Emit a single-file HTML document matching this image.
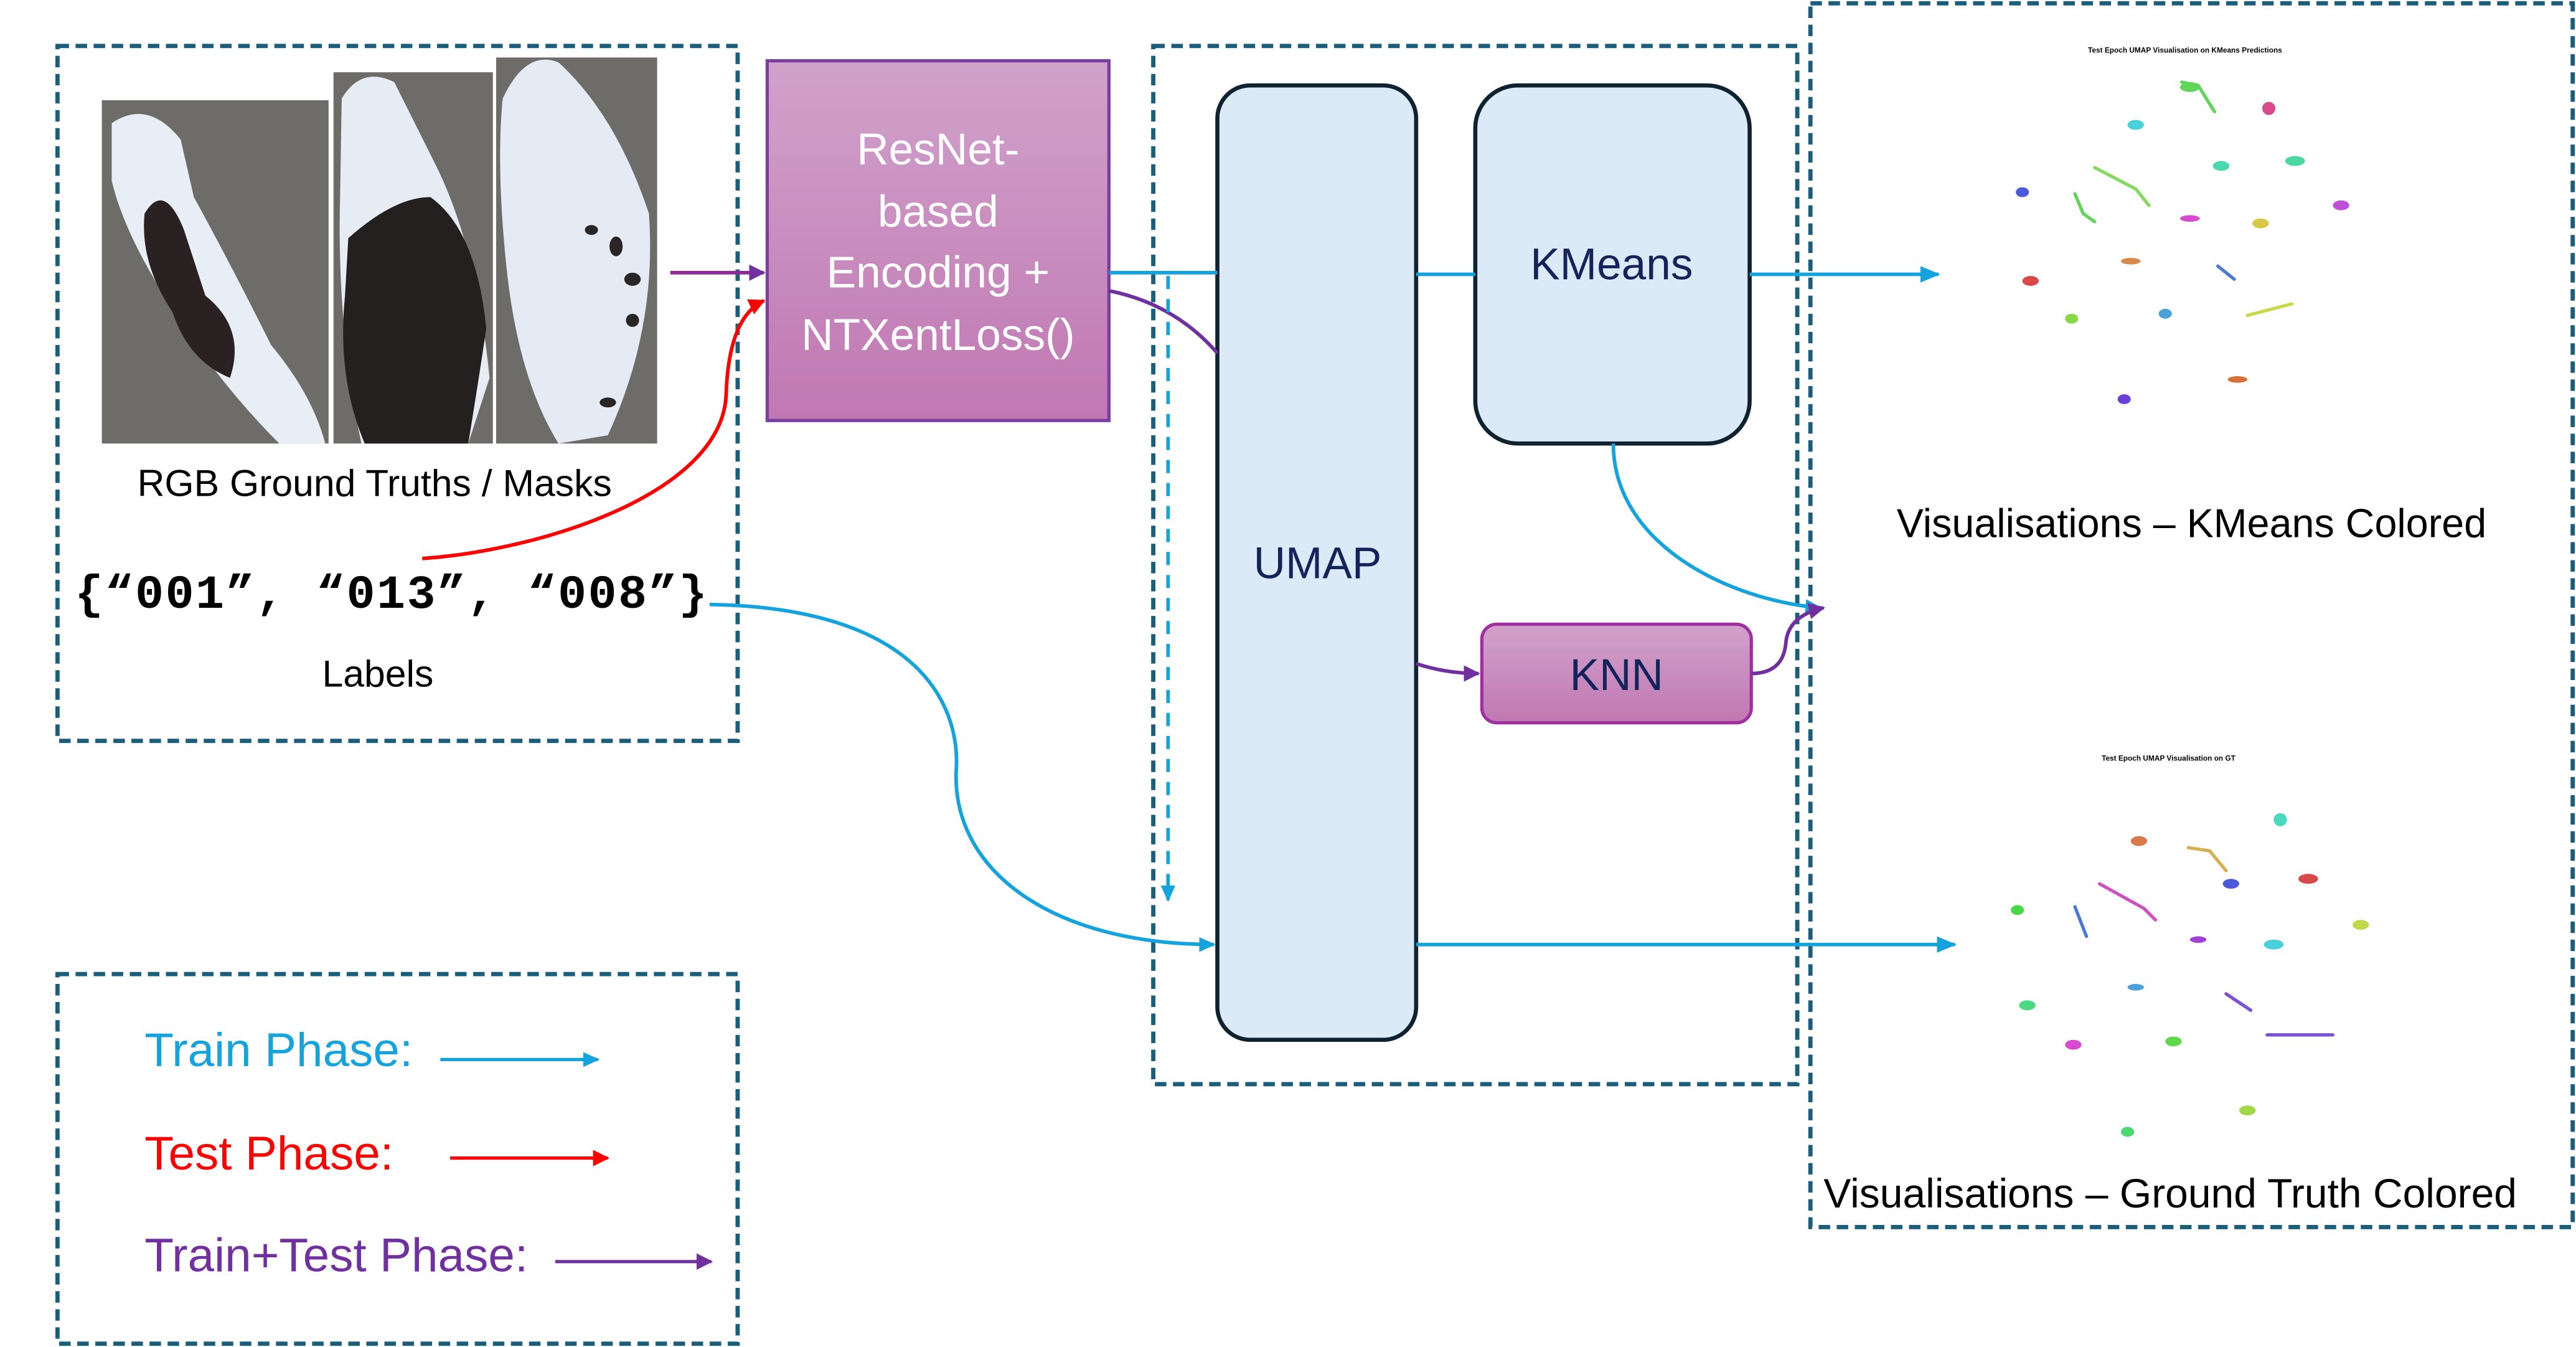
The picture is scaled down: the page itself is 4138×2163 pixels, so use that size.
<!DOCTYPE html>
<html><head><meta charset="utf-8"><style>
html,body{margin:0;padding:0;background:#fff;}
svg{display:block;}
text{font-family:"Liberation Sans",sans-serif;}
</style></head><body>
<svg width="4138" height="2163" viewBox="0 0 1568 820" preserveAspectRatio="none" xmlns="http://www.w3.org/2000/svg">
<defs>
<linearGradient id="pg" x1="0" y1="0" x2="0" y2="1"><stop offset="0" stop-color="#d1a2cb"/><stop offset="1" stop-color="#c078b2"/></linearGradient>
<marker id="ab" markerWidth="10" markerHeight="9" refX="9" refY="4.5" orient="auto" markerUnits="userSpaceOnUse"><path d="M0,0 L10,4.5 L0,9 Z" fill="#14a3dc"/></marker>
<marker id="ab2" markerWidth="12" markerHeight="10" refX="11" refY="5" orient="auto" markerUnits="userSpaceOnUse"><path d="M0,0 L12,5 L0,10 Z" fill="#14a3dc"/></marker>
<marker id="ar" markerWidth="10" markerHeight="10" refX="9" refY="5" orient="auto" markerUnits="userSpaceOnUse"><path d="M0,0 L10,5 L0,10 Z" fill="#f00"/></marker>
<marker id="ap" markerWidth="10" markerHeight="10" refX="9" refY="5" orient="auto" markerUnits="userSpaceOnUse"><path d="M0,0 L10,5 L0,10 Z" fill="#7030a0"/></marker>
</defs>

<g fill="none" stroke="#1b5e7c" stroke-width="2.6" stroke-dasharray="7,4">
<rect x="35" y="28" width="414" height="423"/>
<rect x="702" y="28" width="392" height="632"/>
<rect x="1102" y="2" width="464" height="745"/>
<rect x="35" y="593" width="414" height="225"/>
</g>

<rect x="62" y="61" width="138" height="209" fill="#6e6c69"/>
<rect x="203" y="44" width="97" height="226" fill="#6e6c69"/>
<rect x="302" y="35" width="98" height="235" fill="#6e6c69"/>
<path d="M68,75 Q90,60 110,85 L118,120 Q140,160 165,210 Q190,240 198,270 L170,270 Q130,230 100,180 Q75,140 68,110 Z" fill="#e8eef5"/>
<path d="M88,130 Q100,110 112,140 L125,180 Q150,200 140,230 Q115,220 105,190 Q85,160 88,130 Z" fill="#2a2222"/>
<path d="M208,60 Q220,40 240,50 L265,100 Q290,150 298,230 L285,270 L220,270 Q205,200 207,120 Z" fill="#e6ecf3"/>
<path d="M212,145 Q240,120 262,120 Q290,140 296,200 Q290,240 285,270 L222,270 Q205,230 210,180 Z" fill="#252020"/>
<path d="M306,60 Q320,30 340,38 Q375,70 395,130 Q400,200 370,265 L340,270 Q315,230 308,160 Q302,100 306,60 Z" fill="#e4ebf4"/>
<g fill="#2b2626"><ellipse cx="375" cy="150" rx="4" ry="6"/><ellipse cx="385" cy="170" rx="5" ry="4"/><ellipse cx="360" cy="140" rx="4" ry="3"/><ellipse cx="385" cy="195" rx="4" ry="4"/><ellipse cx="370" cy="245" rx="5" ry="3"/></g>

<text x="228" y="302" font-size="23" text-anchor="middle" fill="#000">RGB Ground Truths / Masks</text>
<text x="238" y="370" font-size="29" font-weight="bold" text-anchor="middle" fill="#000" textLength="385" lengthAdjust="spacing" style='font-family:"Liberation Mono",monospace'>{“001”, “013”, “008”}</text>
<text x="230" y="418" font-size="23" text-anchor="middle" fill="#000">Labels</text>

<rect x="467" y="37" width="208" height="219" fill="url(#pg)" stroke="#7b3fa0" stroke-width="2"/>
<g font-size="27" fill="#fff" text-anchor="middle">
<text x="571" y="100">ResNet-</text><text x="571" y="138">based</text><text x="571" y="175">Encoding +</text><text x="571" y="213">NTXentLoss()</text>
</g>

<rect x="741" y="52" width="121" height="581" rx="20" fill="#dce9f6" stroke="#0f2230" stroke-width="2.5"/>
<text x="802" y="352" font-size="27" text-anchor="middle" fill="#14245a">UMAP</text>
<rect x="898" y="52" width="167" height="218" rx="26" fill="#dce9f6" stroke="#0f2230" stroke-width="2.5"/>
<text x="981" y="170" font-size="27" text-anchor="middle" fill="#14245a">KMeans</text>
<rect x="902" y="380" width="164" height="60" rx="9" fill="url(#pg)" stroke="#a030a0" stroke-width="2"/>
<text x="984" y="420" font-size="27" text-anchor="middle" fill="#14245a">KNN</text>

<g fill="none" stroke-width="2.2">
<line x1="408" y1="166" x2="465" y2="166" stroke="#8e2a9a" marker-end="url(#ap)"/>
<path d="M257,340 C330,335 440,300 442,240 C443,210 450,190 465,183" stroke="#f00" marker-end="url(#ar)"/>
<line x1="675" y1="166" x2="741" y2="166" stroke="#14a3dc"/>
<line x1="862" y1="167" x2="898" y2="167" stroke="#14a3dc"/>
<line x1="1065" y1="167" x2="1180" y2="167" stroke="#14a3dc" marker-end="url(#ab2)"/>
<path d="M675,177 Q715,185 741,215" stroke="#7030a0"/>
<line x1="711" y1="168" x2="711" y2="548" stroke="#14a3dc" stroke-dasharray="8,6" marker-end="url(#ab)"/>
<path d="M432,368 C560,370 585,430 582,470 C580,530 640,575 739,575" stroke="#14a3dc" marker-end="url(#ab)"/>
<line x1="862" y1="575" x2="1190" y2="575" stroke="#14a3dc" marker-end="url(#ab2)"/>
<path d="M982,270 C982,330 1050,365 1108,370" stroke="#14a3dc" marker-end="url(#ab)"/>
<path d="M862,404 Q880,410 900,410" stroke="#7030a0" marker-end="url(#ap)"/>
<path d="M1066,410 Q1085,410 1087,392 Q1088,375 1110,370" stroke="#7030a0" marker-end="url(#ap)"/>
</g>

<text x="1330" y="32" font-size="4.5" font-weight="bold" text-anchor="middle">Test Epoch UMAP Visualisation on KMeans Predictions</text>
<text x="1320" y="463" font-size="4.5" font-weight="bold" text-anchor="middle">Test Epoch UMAP Visualisation on GT</text>
<g stroke-width="2" fill="none" stroke-linecap="round">
<path d="M1328,50 L1338,52 L1348,68" stroke="#5fd55a"/>
<path d="M1275,102 L1300,115 L1308,125" stroke="#86d860"/>
<path d="M1263,118 L1268,130 L1275,135" stroke="#5fd55a"/>
<path d="M1350,162 L1360,170" stroke="#4a7ad8"/>
<path d="M1368,192 L1395,185" stroke="#c8d84a"/>
<path d="M1332,516 L1345,518 L1355,530" stroke="#d8b050"/>
<path d="M1278,538 L1305,553 L1312,560" stroke="#d050c0"/>
<path d="M1263,552 L1270,570" stroke="#4a7ad8"/>
<path d="M1355,605 L1370,615" stroke="#7a50d8"/>
<path d="M1380,630 L1420,630" stroke="#7a50d8"/>
</g>
<g>
<ellipse cx="1333" cy="53" rx="6" ry="3" fill="#5fd55a"/>
<ellipse cx="1381" cy="66" rx="4" ry="4" fill="#d84a8a"/>
<ellipse cx="1300" cy="76" rx="5" ry="3" fill="#4ad0d8"/>
<ellipse cx="1352" cy="101" rx="5" ry="3" fill="#4ad8b0"/>
<ellipse cx="1397" cy="98" rx="6" ry="3" fill="#4ad8a0"/>
<ellipse cx="1231" cy="117" rx="4" ry="3" fill="#4a5ad8"/>
<ellipse cx="1425" cy="125" rx="5" ry="3" fill="#c050d8"/>
<ellipse cx="1333" cy="133" rx="6" ry="2" fill="#d84ad0"/>
<ellipse cx="1376" cy="136" rx="5" ry="3" fill="#d8c84a"/>
<ellipse cx="1236" cy="171" rx="5" ry="3" fill="#d84a4a"/>
<ellipse cx="1297" cy="159" rx="6" ry="2" fill="#d88a4a"/>
<ellipse cx="1261" cy="194" rx="4" ry="3" fill="#8ad84a"/>
<ellipse cx="1318" cy="191" rx="4" ry="3" fill="#4aa0d8"/>
<ellipse cx="1293" cy="243" rx="4" ry="3" fill="#6a40d8"/>
<ellipse cx="1362" cy="231" rx="6" ry="2" fill="#d8703a"/>
<ellipse cx="1388" cy="499" rx="4" ry="4" fill="#4ad8c0"/>
<ellipse cx="1302" cy="512" rx="5" ry="3" fill="#d87a4a"/>
<ellipse cx="1358" cy="538" rx="5" ry="3" fill="#4a5ad8"/>
<ellipse cx="1405" cy="535" rx="6" ry="3" fill="#d84a4a"/>
<ellipse cx="1228" cy="554" rx="4" ry="3" fill="#4ad84a"/>
<ellipse cx="1437" cy="563" rx="5" ry="3" fill="#c0d84a"/>
<ellipse cx="1338" cy="572" rx="5" ry="2" fill="#a040d8"/>
<ellipse cx="1384" cy="575" rx="6" ry="3" fill="#4ad0d8"/>
<ellipse cx="1300" cy="601" rx="5" ry="2" fill="#4aa0d8"/>
<ellipse cx="1234" cy="612" rx="5" ry="3" fill="#4ad880"/>
<ellipse cx="1262" cy="636" rx="5" ry="3" fill="#d84ad0"/>
<ellipse cx="1323" cy="634" rx="5" ry="3" fill="#60d84a"/>
<ellipse cx="1368" cy="676" rx="5" ry="3" fill="#a0d84a"/>
<ellipse cx="1295" cy="689" rx="4" ry="3" fill="#4ad870"/>
</g>
<text x="1334" y="327" font-size="24.5" text-anchor="middle" fill="#000">Visualisations – KMeans Colored</text>
<text x="1110" y="735" font-size="25" fill="#000" textLength="422" lengthAdjust="spacingAndGlyphs">Visualisations – Ground Truth Colored</text>

<text x="88" y="649" font-size="29" fill="#14a3dc">Train Phase:</text>
<line x1="268" y1="645" x2="364" y2="645" stroke="#14a3dc" stroke-width="2" marker-end="url(#ab)"/>
<text x="88" y="712" font-size="29" fill="#f00">Test Phase:</text>
<line x1="274" y1="705" x2="370" y2="705" stroke="#f00" stroke-width="2" marker-end="url(#ar)"/>
<text x="88" y="774" font-size="29" fill="#7030a0">Train+Test Phase:</text>
<line x1="338" y1="768" x2="433" y2="768" stroke="#7030a0" stroke-width="2" marker-end="url(#ap)"/>
</svg>
</body></html>
